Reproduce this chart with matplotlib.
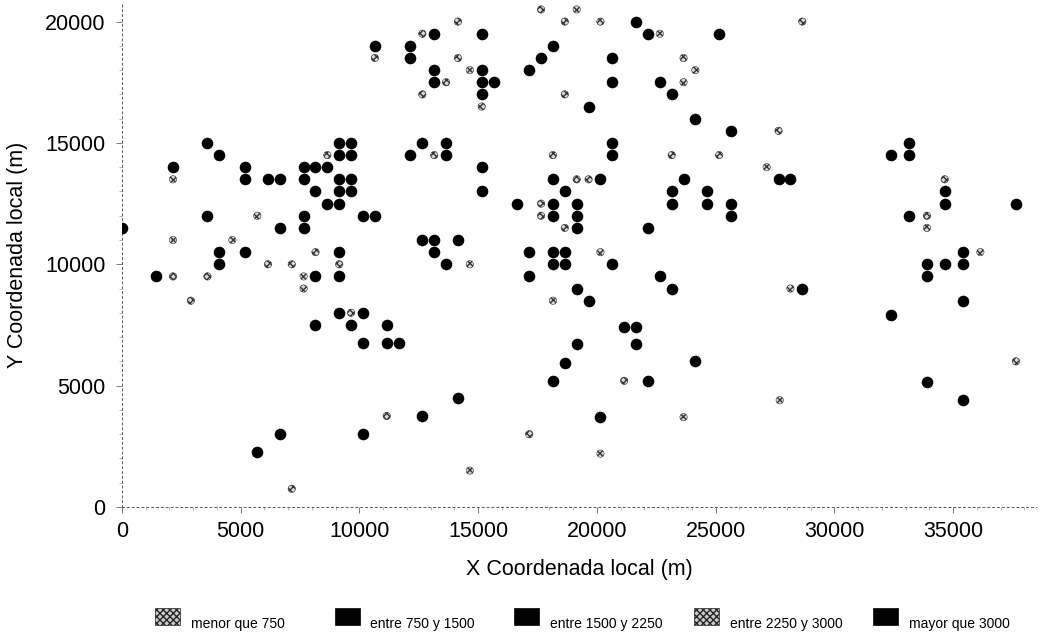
import matplotlib
matplotlib.use("Agg")
import matplotlib.pyplot as plt
from matplotlib.patches import Rectangle
from matplotlib.ticker import MultipleLocator

plt.rcParams['font.family'] = ['Liberation Sans', 'DejaVu Sans']

# Pozos: coordenadas locales (m). Puntos negros = clases oscuras, puntos moteados = clases claras
black_x = [3600, 4100, 2150, 5200, 5200, 6150, 6650, 7650, 7650, 8150, 8650, 9150, 9150, 9150, 9150, 9150,
           8150, 8650, 3600, 7650, 7650, 6650, 0, 4100, 5200, 4100, 9150, 1450, 8150, 9150,
           8150, 9150, 5700, 6650,
           10650, 12150, 12150, 13150, 15150, 13150, 13150, 15150, 15150, 15650, 15150,
           21650, 22150, 18150, 17650, 17150, 20650, 20650, 22650, 23150, 19650,
           9650, 9650, 9650, 9650, 10150, 10650, 12650, 13650, 12150, 13650, 15150, 15150,
           12650, 13150, 14150, 13150, 13650,
           16650, 18150, 19150, 18150, 20150, 18650, 20650, 20650, 23150, 23150, 18150, 19150, 19150,
           22150, 17150, 18150, 18650, 18150, 18650, 20650, 17150, 22650, 19150, 23150, 19650,
           25150, 24150, 25650, 27650, 28150, 23650, 24650, 24650, 25650, 25650,
           33150, 32400, 33150, 34650, 34650, 37650, 33150, 35400, 33900, 34650, 35400, 33900,
           28650, 35400, 32400, 24150, 33900, 35400,
           10150, 9650, 11150, 10150, 11150, 11650, 12650, 14150, 10150,
           21150, 21650, 21650, 19150, 18650, 18150, 22150, 20150]
black_y = [15000, 14500, 14000, 14000, 13500, 13500, 13500, 14000, 13500, 14000, 14000, 14500, 15000, 13500, 13000, 12500,
           13000, 12500, 12000, 12000, 11500, 11500, 11500, 10500, 10500, 10000, 10500, 9500, 9500, 9500,
           7500, 8000, 2250, 3000,
           19000, 19000, 18500, 19500, 19500, 18000, 17500, 18000, 17500, 17500, 17000,
           20000, 19500, 19000, 18500, 18000, 18500, 17500, 17500, 17000, 16500,
           15000, 14500, 13500, 13000, 12000, 12000, 15000, 15000, 14500, 14500, 14000, 13000,
           11000, 11000, 11000, 10500, 10000,
           12500, 12500, 12500, 13500, 13500, 13000, 15000, 14500, 13000, 12500, 12000, 12000, 11500,
           11500, 10500, 10500, 10500, 10000, 10000, 10000, 9500, 9500, 9000, 9000, 8500,
           19500, 16000, 15500, 13500, 13500, 13500, 13000, 12500, 12500, 12000,
           15000, 14500, 14500, 13000, 12500, 12500, 12000, 10500, 10000, 10000, 10000, 9500,
           9000, 8500, 7900, 6000, 5150, 4400,
           8000, 7500, 7500, 6750, 6750, 6750, 3750, 4500, 3000,
           7400, 7400, 6700, 6700, 5950, 5200, 5200, 3700]

speck_x = [2150, 8650, 5700, 2150, 4650, 6150, 7150, 8150, 9150, 2150, 3600, 7650, 7650, 2900, 7150,
           10650, 12650, 14150, 14150, 13650, 14650, 15150, 12650,
           17650, 19150, 18650, 20150, 22650, 18650,
           13150, 14650, 17650, 19150, 19650, 18150, 23150, 17650, 18650, 20150, 18150,
           28650, 23650, 24150, 23650, 27650, 25150, 27150, 34650, 33900, 33900, 36150, 28150,
           37650, 27700, 23650,
           9650, 11150, 14650, 17150, 21150, 20150]
speck_y = [13500, 14500, 12000, 11000, 11000, 10000, 10000, 10500, 10000, 9500, 9500, 9500, 9000, 8500, 750,
           18500, 19500, 20000, 18500, 17500, 18000, 16500, 17000,
           20500, 20500, 20000, 20000, 19500, 17000,
           14500, 10000, 12500, 13500, 13500, 14500, 14500, 12000, 11500, 10500, 8500,
           20000, 18500, 18000, 17500, 15500, 14500, 14000, 13500, 12000, 11500, 10500, 9000,
           6000, 4400, 3700,
           8000, 3750, 1500, 3000, 5200, 2200]

legend_labels = ['menor que 750', 'entre 750 y 1500', 'entre 1500 y 2250',
                 'entre 2250 y 3000', 'mayor que 3000']
legend_speckled = [True, False, False, True, False]

fig = plt.figure(figsize=(10.46, 6.39), dpi=100)
ax = fig.add_axes([0.1166, 0.2066, 0.874, 0.790])

ax.scatter(speck_x, speck_y, s=28, marker='o', facecolor='0.85', edgecolor='0.2',
           linewidth=0.4, hatch='xxxxx', zorder=3)
ax.scatter(black_x, black_y, s=70, marker='o', color='black', linewidth=0, zorder=4)

ax.set_xlim(0, 38500)
ax.set_ylim(0, 20800)
ax.xaxis.set_major_locator(MultipleLocator(5000))
ax.yaxis.set_major_locator(MultipleLocator(5000))
ax.xaxis.set_minor_locator(MultipleLocator(1000))
ax.yaxis.set_minor_locator(MultipleLocator(1000))
ax.tick_params(axis='both', which='major', length=4, width=0.6, color='0.4', labelsize=15.5)
ax.tick_params(axis='both', which='minor', length=2, width=0.5, color='0.6')
ax.tick_params(axis='x', pad=6)
ax.tick_params(axis='y', pad=8)
for side in ['top', 'right']:
    ax.spines[side].set_visible(False)
for side in ['left', 'bottom']:
    ax.spines[side].set_linestyle((0, (2, 3)))
    ax.spines[side].set_linewidth(0.7)
    ax.spines[side].set_color('0.35')

ax.set_xlabel('X Coordenada local (m)', fontsize=15.5, labelpad=12)
ax.set_ylabel('Y Coordenada local (m)', fontsize=15.5, labelpad=12)

# leyenda inferior, entradas espaciadas de forma regular
W, H = 1046.0, 639.0
for i, (lab, sp) in enumerate(zip(legend_labels, legend_speckled)):
    x0 = 155 + i * 179.5
    if sp:
        sq = Rectangle((x0 / W, (H - 625) / H), 25 / W, 17 / H, transform=fig.transFigure,
                       facecolor='0.8', edgecolor='0.15', hatch='xxxxx', linewidth=0.5)
    else:
        sq = Rectangle((x0 / W, (H - 625) / H), 25 / W, 17 / H, transform=fig.transFigure,
                       facecolor='black', edgecolor='black', linewidth=0.5)
    fig.patches.append(sq)
    fig.text((x0 + 36) / W, (H - 628) / H, lab, fontsize=10, va='baseline', ha='left')

fig.savefig('out.png', dpi=100)
